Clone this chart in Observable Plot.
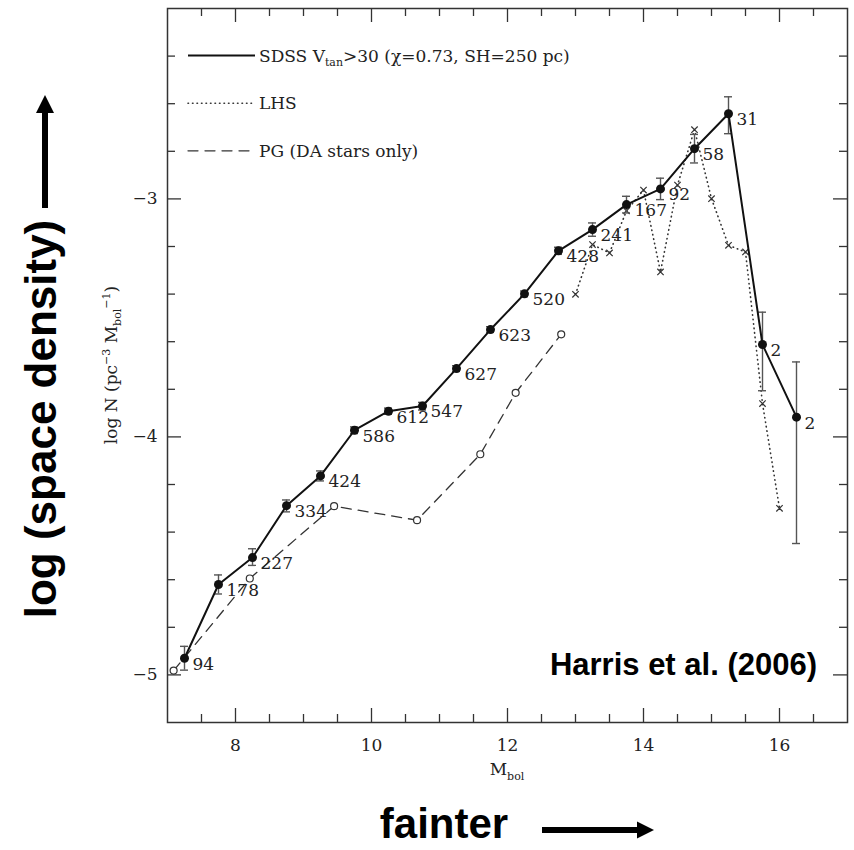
<!DOCTYPE html>
<html>
<head>
<meta charset="utf-8">
<script src="https://cdn.jsdelivr.net/npm/d3@7"></script>
<script src="https://cdn.jsdelivr.net/npm/@observablehq/plot@0.6"></script>
<style>
  html, body { margin: 0; padding: 0; background: white; }
  #chart { width: 854px; height: 850px; }
</style>
</head>
<body>
<div id="chart"></div>
<script>
// ---- Data ----
// SDSS Vtan>30 luminosity function
const sdssM      = [7.25, 7.75, 8.25, 8.75, 9.25, 9.75, 10.25, 10.75, 11.25, 11.75, 12.25, 12.75, 13.25, 13.75, 14.25, 14.75, 15.25, 15.75, 16.25];
const sdssLogN   = [-4.93, -4.62, -4.507, -4.289, -4.164, -3.972, -3.892, -3.870, -3.713, -3.549, -3.399, -3.218, -3.129, -3.024, -2.958, -2.789, -2.642, -3.612, -3.917];
const sdssErrLo  = [-4.98, -4.66, -4.54, -4.315, -4.185, -3.986, -3.905, -3.887, -3.725, -3.561, -3.411, -3.233, -3.157, -3.059, -3.003, -2.849, -2.726, -3.806, -4.448];
const sdssErrHi  = [-4.88, -4.58, -4.47, -4.265, -4.143, -3.958, -3.879, -3.855, -3.701, -3.537, -3.387, -3.203, -3.101, -2.989, -2.913, -2.729, -2.571, -3.476, -3.685];
const sdssCounts = [94, 178, 227, 334, 424, 586, 612, 547, 627, 623, 520, 428, 241, 167, 92, 58, 31, 2, 2];

// LHS
const lhsM    = [13.0, 13.25, 13.5, 13.75, 14.0, 14.25, 14.5, 14.75, 15.0, 15.25, 15.5, 15.75, 16.0];
const lhsLogN = [-3.401, -3.192, -3.227, -3.05, -2.963, -3.307, -2.942, -2.709, -2.999, -3.195, -3.223, -3.86, -4.30];

// PG (DA stars only)
const pgM    = [7.09, 8.21, 9.45, 10.67, 11.60, 12.12, 12.79];
const pgLogN = [-4.982, -4.595, -4.291, -4.350, -4.073, -3.815, -3.569];

// Axis ticks
const xMajor = [8, 10, 12, 14, 16];
const xMinor = [7.5, 8.5, 9, 9.5, 10.5, 11, 11.5, 12.5, 13, 13.5, 14.5, 15, 15.5, 16.5];
const yMajor = [-5, -4, -3];
const yMinor = [-4.8, -4.6, -4.4, -4.2, -3.8, -3.6, -3.4, -3.2, -2.8, -2.6, -2.4];

// Legend entries
const legendLabels = ["LHS", "PG (DA stars only)"];

// ---- Build tables ----
const sdss = sdssM.map((m, i) => ({M: m, logN: sdssLogN[i], lo: sdssErrLo[i], hi: sdssErrHi[i], n: sdssCounts[i]}));
const lhs = lhsM.map((m, i) => ({M: m, logN: lhsLogN[i]}));
const pg = pgM.map((m, i) => ({M: m, logN: pgLogN[i]}));

const W = 854, H = 850;
const mTop = 8, mRight = 7, mBottom = 128, mLeft = 167;
const fw = W - mLeft - mRight, fh = H - mTop - mBottom;
const major = 14, minor = 8;
const tickStyle = {stroke: "#333", strokeWidth: 1.3};
const minus = d => String(d).replace("-", "\u2212");

const plot = Plot.plot({
  width: W, height: H,
  marginTop: mTop, marginRight: mRight, marginBottom: mBottom, marginLeft: mLeft,
  x: {domain: [7, 17]},
  y: {domain: [-5.2, -2.2]},
  style: {fontFamily: '"DejaVu Serif", serif', fontSize: "17px", color: "#222", background: "white", overflow: "visible"},
  marks: [
    Plot.frame({stroke: "#333", strokeWidth: 1.5}),
    Plot.axisX({ticks: xMajor, tickSize: 0, tickPadding: 16, label: null, tickFormat: minus}),
    Plot.axisY({ticks: yMajor, tickSize: 0, tickPadding: 10, label: null, tickFormat: minus}),
    // inward ticks on all four sides
    Plot.ruleX(xMajor, {x: d => d, insetTop: fh - major, ...tickStyle}),
    Plot.ruleX(xMinor, {x: d => d, insetTop: fh - minor, ...tickStyle}),
    Plot.ruleX(xMajor, {x: d => d, insetBottom: fh - major, ...tickStyle}),
    Plot.ruleX(xMinor, {x: d => d, insetBottom: fh - minor, ...tickStyle}),
    Plot.ruleY(yMajor, {y: d => d, insetRight: fw - major, ...tickStyle}),
    Plot.ruleY(yMinor, {y: d => d, insetRight: fw - minor, ...tickStyle}),
    Plot.ruleY(yMajor, {y: d => d, insetLeft: fw - major, ...tickStyle}),
    Plot.ruleY(yMinor, {y: d => d, insetLeft: fw - minor, ...tickStyle}),
    // PG dashed with open circles
    Plot.line(pg, {x: "M", y: "logN", stroke: "#333", strokeWidth: 1.3, strokeDasharray: "10,7"}),
    Plot.dot(pg, {x: "M", y: "logN", r: 3.5, stroke: "#333", fill: "white", strokeWidth: 1.2}),
    // LHS dotted with crosses
    Plot.line(lhs, {x: "M", y: "logN", stroke: "#333", strokeWidth: 1.6, strokeDasharray: "0.5,4", strokeLinecap: "round"}),
    Plot.dot(lhs, {x: "M", y: "logN", symbol: "times", r: 3, stroke: "#333", strokeWidth: 1.2}),
    // SDSS error bars
    Plot.ruleX(sdss, {x: "M", y1: "lo", y2: "hi", stroke: "#555", strokeWidth: 1.4}),
    Plot.ruleY(sdss, {y: "lo", x1: "M", x2: "M", insetLeft: -4, insetRight: -4, stroke: "#555", strokeWidth: 1.4}),
    Plot.ruleY(sdss, {y: "hi", x1: "M", x2: "M", insetLeft: -4, insetRight: -4, stroke: "#555", strokeWidth: 1.4}),
    // SDSS line and points
    Plot.line(sdss, {x: "M", y: "logN", stroke: "#111", strokeWidth: 2}),
    Plot.dot(sdss, {x: "M", y: "logN", r: 4.5, fill: "#111"}),
    Plot.text(sdss, {x: "M", y: "logN", text: d => String(d.n), dx: 8, dy: 6, textAnchor: "start", fill: "#222"})
  ]
});

document.getElementById("chart").appendChild(plot);

// ---- Annotations (legend, axis titles, outer labels) ----
const svg = d3.select(plot);
const serif = '"DejaVu Serif", serif';
const sans = '"Liberation Sans", Arial, sans-serif';
const ys = plot.scale("y");

// legend
const legendItems = [
  {y: ys.apply(-2.4), dash: null, w: 2, stroke: "#111"},
  {y: ys.apply(-2.6), dash: "0.5,4", w: 1.6, stroke: "#333"},
  {y: ys.apply(-2.8), dash: "10,7", w: 1.3, stroke: "#333"}
];
const lg = svg.append("g").attr("text-anchor", "start");
legendItems.forEach(it => {
  lg.append("line").attr("x1", 188).attr("x2", 255).attr("y1", it.y).attr("y2", it.y)
    .attr("stroke", it.stroke).attr("stroke-width", it.w)
    .attr("stroke-dasharray", it.dash).attr("stroke-linecap", it.dash ? "round" : "butt");
});
const t1 = lg.append("text").attr("x", 259).attr("y", legendItems[0].y + 6).attr("text-anchor", "start")
  .attr("font-family", serif).attr("font-size", 17).attr("fill", "#222");
t1.append("tspan").text("SDSS V");
t1.append("tspan").attr("font-size", 11).attr("dy", 4).text("tan");
t1.append("tspan").attr("dy", -4).text(">30 (\u03C7=0.73, SH=250 pc)");
legendLabels.forEach((lab, i) => {
  lg.append("text").attr("x", 259).attr("y", legendItems[i + 1].y + 6).attr("text-anchor", "start")
    .attr("font-family", serif).attr("font-size", 17).attr("fill", "#222").text(lab);
});

// x axis title M_bol
const xt = svg.append("text").attr("x", mLeft + fw / 2).attr("y", 775)
  .attr("text-anchor", "middle").attr("font-family", serif).attr("font-size", 17).attr("fill", "#222");
xt.append("tspan").text("M");
xt.append("tspan").attr("font-size", 11).attr("dy", 5).text("bol");

// y axis title log N (pc^-3 M_bol^-1)
const cy = mTop + fh / 2;
const yt = svg.append("text").attr("transform", `translate(117,${cy}) rotate(-90)`)
  .attr("text-anchor", "middle").attr("font-family", serif).attr("font-size", 17).attr("fill", "#222");
yt.append("tspan").text("log N (pc");
yt.append("tspan").attr("font-size", 11).attr("dy", -7).text("\u22123");
yt.append("tspan").attr("dy", 7).text(" M");
yt.append("tspan").attr("font-size", 11).attr("dy", 4).text("bol");
yt.append("tspan").attr("font-size", 11).attr("dy", -11).text("\u22121");
yt.append("tspan").attr("dy", 7).text(")");

// Harris et al. (2006)
svg.append("text").attr("x", 817).attr("y", 675).attr("text-anchor", "end")
  .attr("font-family", sans).attr("font-weight", "bold").attr("font-size", 31).attr("fill", "#000")
  .text("Harris et al. (2006)");

// log (space density) with up arrow
svg.append("text").attr("transform", "translate(56,419) rotate(-90)").attr("text-anchor", "middle")
  .attr("font-family", sans).attr("font-weight", "bold").attr("font-size", 44).attr("fill", "#000")
  .text("log (space density)");
svg.append("line").attr("x1", 45).attr("x2", 45).attr("y1", 208).attr("y2", 110)
  .attr("stroke", "#000").attr("stroke-width", 6);
svg.append("path").attr("d", "M45,95 L54,113 L36,113 Z").attr("fill", "#000");

// fainter with right arrow
svg.append("text").attr("x", 444).attr("y", 838).attr("text-anchor", "middle")
  .attr("font-family", sans).attr("font-weight", "bold").attr("font-size", 42).attr("fill", "#000")
  .text("fainter");
svg.append("line").attr("x1", 542).attr("x2", 640).attr("y1", 830).attr("y2", 830)
  .attr("stroke", "#000").attr("stroke-width", 6);
svg.append("path").attr("d", "M654,830 L637,821.5 L637,838.5 Z").attr("fill", "#000");
</script>
</body>
</html>
